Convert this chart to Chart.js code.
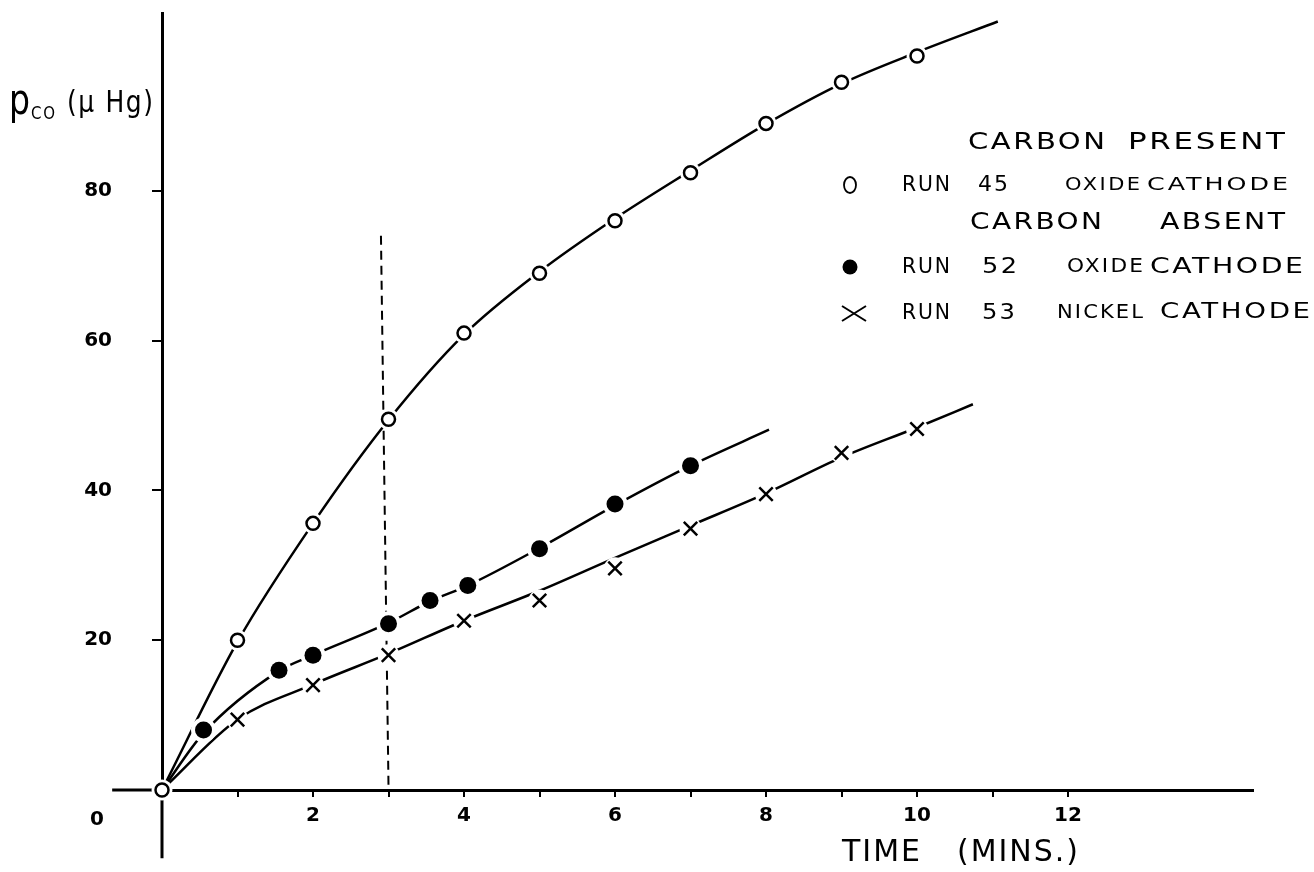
<!DOCTYPE html>
<html>
<head>
<meta charset="utf-8">
<title>CO pressure against time</title>
<script src="https://cdn.jsdelivr.net/npm/chart.js@4.4.1/dist/chart.umd.min.js"></script>
<style>
  html, body { margin: 0; padding: 0; background: #fff; }
  #wrap { width: 1314px; height: 872px; }
</style>
</head>
<body>
<div id="wrap"><canvas id="pcoChart" width="1314" height="872"></canvas></div>
<script>
// time (mins) and CO pressure (micro Hg) for each run
const run45Time = [0, 1, 2, 3, 4, 5, 6, 7, 8, 9, 10];
const run45Pco  = [0, 20, 35.6, 49.5, 61, 69, 76, 82.4, 89, 94.5, 98];
const run52Time = [0.55, 1.55, 2, 3, 3.55, 4.05, 5, 6, 7];
const run52Pco  = [8, 16, 18, 22.2, 25.3, 27.3, 32.2, 38.2, 43.3];
const run53Time = [1, 2, 3, 4, 5, 6, 7, 8, 9, 10];
const run53Pco  = [9.4, 14, 18, 22.6, 25.3, 29.6, 34.9, 39.5, 45, 48.2];

// smooth curves drawn through the runs
const run45FitTime = [0, 1, 2, 3, 4, 5, 6, 7, 8, 9, 10, 11.07];
const run45FitPco  = [0, 19.8, 35.6, 49.4, 60.8, 69.2, 76.3, 82.7, 88.9, 94.3, 98.5, 102.6];
const run52FitTime = [0, 0.55, 1.55, 2, 3, 3.55, 4.05, 5, 6, 7, 8.04];
const run52FitPco  = [0, 7.6, 15.9, 18, 22.3, 25.2, 27.3, 32.3, 38, 43.3, 48.1];
const run53FitTime = [0, 1, 2, 3, 4, 5, 6, 7, 8, 9, 10, 10.74];
const run53FitPco  = [0, 9.4, 14.1, 18.2, 22.6, 26.6, 31, 35.3, 39.6, 44.4, 48.4, 51.5];

// dashed line at 3 minutes
const markTime = [2.9, 3.0];
const markPco  = [74, 0.5];

// axis lines carried past the origin
const xStubTime = [-0.66, 0];
const xStubPco  = [0, 0];
const yStubTime = [0, 0];
const yStubPco  = [0, -9.1];

const xTicks = [1, 2, 3, 4, 5, 6, 7, 8, 9, 10, 11, 12];
const yTicks = [20, 40, 60, 80];

const INK = '#000';
const FONT = 'DejaVu Sans';

function pts(xs, ys) {
    return xs.map((x, i) => ({ x: x, y: ys[i] }));
}

function curve(xs, ys) {
    return {
        data: pts(xs, ys),
        borderColor: INK,
        borderWidth: 2.5,
        pointRadius: 0,
        cubicInterpolationMode: 'monotone',
        clip: false,
        order: 2
    };
}

function stub(xs, ys) {
    return {
        data: pts(xs, ys),
        borderColor: INK,
        borderWidth: 3,
        pointRadius: 0,
        tension: 0,
        clip: false,
        order: 4
    };
}

// white disc behind a marker so the curve breaks around it
function halo(xs, ys, r) {
    return {
        data: pts(xs, ys),
        showLine: false,
        pointStyle: 'circle',
        pointRadius: r,
        pointBackgroundColor: '#fff',
        pointBorderWidth: 0,
        clip: false,
        order: 1
    };
}

// hand lettering: stretch a word between two x positions
function word(ctx, text, x0, x1, y, size) {
    ctx.save();
    ctx.font = size + 'px ' + FONT;
    ctx.letterSpacing = '2px';
    const w = ctx.measureText(text).width - 2;
    ctx.translate(x0, y);
    ctx.scale((x1 - x0) / w, 1);
    ctx.fillText(text, 0, 0);
    ctx.restore();
}

const sketchText = {
    id: 'sketchText',
    afterDraw(chart) {
        const ctx = chart.ctx;
        ctx.save();
        ctx.fillStyle = INK;
        ctx.strokeStyle = INK;
        ctx.textAlign = 'left';

        // y axis title
        ctx.textBaseline = 'alphabetic';
        word(ctx, 'p', 9, 30, 114, 42);
        word(ctx, 'CO', 31, 55, 119, 17);
        word(ctx, '(μ Hg)', 67, 153, 112, 31);

        // origin label
        ctx.textAlign = 'center';
        ctx.textBaseline = 'middle';
        ctx.font = 'bold 20px ' + FONT;
        ctx.fillText('0', 97, 820);

        // x axis title
        ctx.textAlign = 'left';
        word(ctx, 'TIME', 842, 920, 853, 30);
        word(ctx, '(MINS.)', 957, 1078, 853, 30);

        // key
        word(ctx, 'CARBON', 968, 1105, 143, 23);
        word(ctx, 'PRESENT', 1128, 1285, 143, 23);

        word(ctx, 'RUN', 902, 950, 185, 22);
        word(ctx, '45', 978, 1008, 185, 22);
        word(ctx, 'OXIDE', 1065, 1140, 186, 17);
        word(ctx, 'CATHODE', 1147, 1288, 186, 17);

        word(ctx, 'CARBON', 970, 1102, 223, 23);
        word(ctx, 'ABSENT', 1160, 1285, 223, 23);

        word(ctx, 'RUN', 902, 950, 267, 22);
        word(ctx, '52', 982, 1017, 267, 22);
        word(ctx, 'OXIDE', 1067, 1143, 267, 20);
        word(ctx, 'CATHODE', 1150, 1303, 267, 22);

        word(ctx, 'RUN', 902, 950, 313, 22);
        word(ctx, '53', 982, 1015, 313, 22);
        word(ctx, 'NICKEL', 1057, 1143, 313, 20);
        word(ctx, 'CATHODE', 1160, 1310, 313, 21);

        // key symbols
        ctx.lineWidth = 1.8;
        ctx.beginPath();
        ctx.ellipse(850, 185, 6, 8, 0, 0, Math.PI * 2);
        ctx.stroke();

        ctx.beginPath();
        ctx.arc(850, 267, 7.5, 0, Math.PI * 2);
        ctx.fill();

        ctx.lineWidth = 2;
        ctx.beginPath();
        ctx.moveTo(842, 306); ctx.lineTo(866, 321);
        ctx.moveTo(842, 321); ctx.lineTo(866, 306);
        ctx.stroke();

        ctx.restore();
    }
};

const tickFont = { family: FONT, size: 20, weight: 'bold' };

const chart = new Chart(document.getElementById('pcoChart'), {
    type: 'line',
    data: {
        datasets: [
            {
                label: 'RUN 45 OXIDE CATHODE',
                data: pts(run45Time, run45Pco),
                showLine: false,
                pointStyle: 'circle',
                pointRadius: 6.5,
                pointBackgroundColor: '#fff',
                pointBorderColor: INK,
                pointBorderWidth: 2.5,
                clip: false,
                order: 0
            },
            {
                label: 'RUN 52 OXIDE CATHODE',
                data: pts(run52Time, run52Pco),
                showLine: false,
                pointStyle: 'circle',
                pointRadius: 8.5,
                pointBackgroundColor: INK,
                pointBorderColor: INK,
                pointBorderWidth: 0,
                clip: false,
                order: 0
            },
            {
                label: 'RUN 53 NICKEL CATHODE',
                data: pts(run53Time, run53Pco),
                showLine: false,
                pointStyle: 'crossRot',
                pointRadius: 9.5,
                pointBorderColor: INK,
                pointBorderWidth: 2.5,
                clip: false,
                order: 0
            },
            halo(run45Time, run45Pco, 10.5),
            halo(run52Time, run52Pco, 12.5),
            halo(run53Time, run53Pco, 11),
            curve(run45FitTime, run45FitPco),
            curve(run52FitTime, run52FitPco),
            curve(run53FitTime, run53FitPco),
            {
                data: pts(markTime, markPco),
                borderColor: INK,
                borderWidth: 2,
                borderDash: [9, 6],
                pointRadius: 0,
                tension: 0,
                clip: false,
                order: 3
            },
            stub(xStubTime, xStubPco),
            stub(yStubTime, yStubPco)
        ]
    },
    options: {
        responsive: false,
        animation: false,
        layout: { autoPadding: false, padding: { left: 0, right: 61, top: 13, bottom: 0 } },
        plugins: {
            legend: { display: false },
            title: { display: false },
            tooltip: { enabled: false }
        },
        scales: {
            x: {
                type: 'linear',
                position: 'bottom',
                min: 0,
                max: 14.45,
                afterBuildTicks: (scale) => { scale.ticks = xTicks.map(v => ({ value: v })); },
                afterFit: (scale) => { scale.height = 82; },
                grid: { drawOnChartArea: false, drawTicks: true, tickLength: 7, color: INK, lineWidth: 2 },
                border: { display: true, color: INK, width: 3 },
                ticks: {
                    autoSkip: false,
                    maxRotation: 0,
                    padding: 7,
                    color: INK,
                    font: tickFont,
                    callback: (v) => (v % 2 === 0 ? String(v) : '')
                }
            },
            y: {
                type: 'linear',
                position: 'left',
                min: 0,
                max: 103.74,
                afterBuildTicks: (scale) => { scale.ticks = yTicks.map(v => ({ value: v })); },
                // fixed width; the wide label gap should not push the plot down
                afterFit: (scale) => {
                    scale.width = 162;
                    scale.paddingTop = 0;
                    scale.paddingBottom = 0;
                },
                grid: { drawOnChartArea: false, drawTicks: true, tickLength: 10, color: INK, lineWidth: 2 },
                border: { display: true, color: INK, width: 3 },
                ticks: {
                    padding: 40,
                    color: INK,
                    font: tickFont,
                    callback: (v) => String(v)
                }
            }
        }
    },
    plugins: [sketchText]
});
</script>
</body>
</html>
